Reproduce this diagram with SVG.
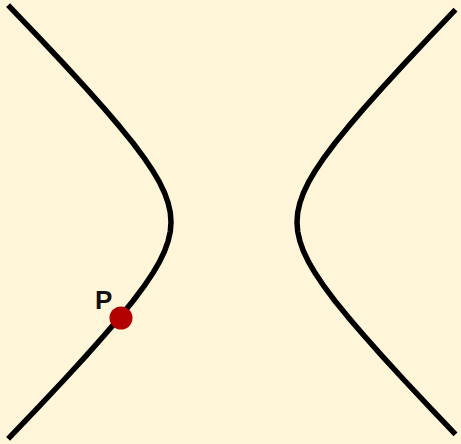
<svg xmlns="http://www.w3.org/2000/svg" width="461" height="444" viewBox="0 0 461 444">
<style>
.curve{fill:none;stroke:#000;stroke-width:5.5;stroke-linejoin:round;stroke-linecap:butt}
.lbl{font-family:"Liberation Sans",Arial,sans-serif;font-weight:bold;font-size:26px;fill:#111}
</style>
<rect width="461" height="444" fill="#FFF5D9"/>
<g id="connectors">
<polyline id="left-branch" class="curve" points="8.1,5.1 38.2,36.6 63.9,64.0 85.8,87.9 104.3,108.7 119.9,126.9 133.0,143.0 143.7,157.3 152.4,170.2 159.3,181.9 164.5,192.7 168.1,202.8 170.3,212.5 171,222 170.3,231.5 168.1,241.2 164.5,251.3 159.3,262.1 152.4,273.8 143.7,286.7 133.0,301.0 119.9,317.1 104.3,335.3 85.8,356.1 63.9,380.0 38.2,407.4 8.1,438.9"/>
<polyline id="right-branch" class="curve" points="455.5,9.7 429.8,36.6 404.1,64.0 382.2,87.9 363.7,108.7 348.1,126.9 335.0,143.0 324.3,157.3 315.6,170.2 308.7,181.9 303.5,192.7 299.9,202.8 297.7,212.5 297,222 297.7,231.5 299.9,241.2 303.5,251.3 308.7,262.1 315.6,273.8 324.3,286.7 335.0,301.0 348.1,317.1 363.7,335.3 382.2,356.1 404.1,380.0 429.8,407.4 455.5,434.3"/>
</g>
<g id="point-P">
<circle cx="121" cy="318" r="11.5" fill="#B30000"/>
<text class="lbl" x="95" y="309">P</text>
</g>
</svg>
